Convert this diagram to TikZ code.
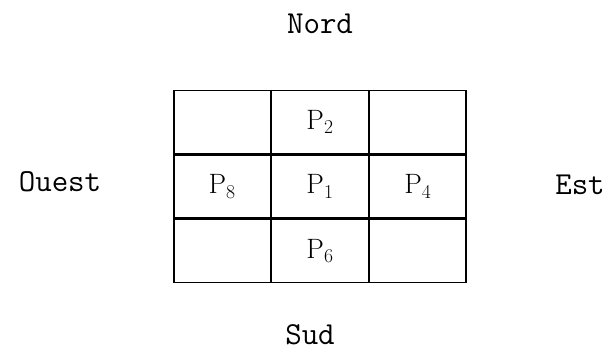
\documentclass[tikz,border=0pt]{standalone}
\usetikzlibrary{positioning}

\tikzset{
    cell/.style={draw, line width=1.3pt, minimum width=96.5pt, minimum height=63pt, inner sep=0pt, font=\fontsize{28}{28}\selectfont},
    side/.style={font=\ttfamily\fontsize{32}{32}\selectfont},
}

\begin{document}
\begin{tikzpicture}[x=1pt, y=1pt]
                    \useasboundingbox (0,0) rectangle (608,354);
                    \node [cell] (p1) at (320,167.5) {P\textsubscript{1}};
                    \node [cell, above=0pt of p1] (p2) {P\textsubscript{2}};
                    \node [cell, below=0pt of p1] (p6) {P\textsubscript{6}};
                    \node [cell, left=0pt of p1] (p8) {P\textsubscript{8}};
                    \node [cell, right=0pt of p1] (p4) {P\textsubscript{4}};
                    \node [cell, left=0pt of p2] (nw) {};
                    \node [cell, right=0pt of p2] (ne) {};
                    \node [cell, left=0pt of p6] (sw) {};
                    \node [cell, right=0pt of p6] (se) {};

                    \node [side] (nord) at (320,330) {Nord};
                    \node [side] (sud) at (310,19) {Sud};
                    \node [side] (ouest) at (60,172) {Ouest};
                    \node [side] (est) at (580,169) {Est};
\end{tikzpicture}
\end{document}
